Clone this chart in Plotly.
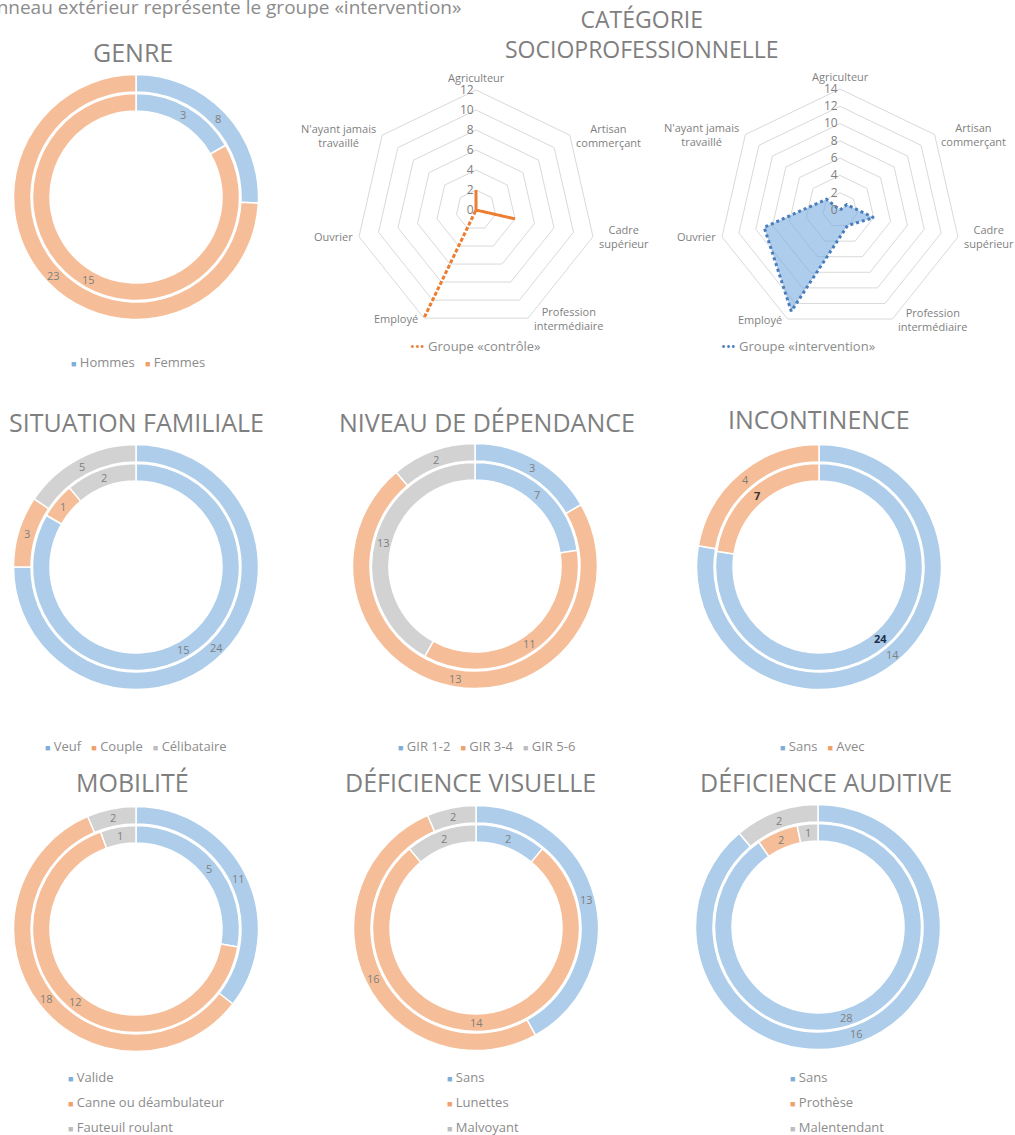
import math

import plotly.graph_objects as go

W, H = 1015, 1135

# --- données (anneau extérieur / anneau intérieur) ---
genre_labels = ["Hommes", "Femmes"]
genre_ext = [8, 23]
genre_int = [3, 15]

famille_labels = ["Veuf", "Couple", "Célibataire"]
famille_ext = [24, 3, 5]
famille_int = [15, 1, 2]

gir_labels = ["GIR 1-2", "GIR 3-4", "GIR 5-6"]
gir_ext = [3, 13, 2]
gir_int = [7, 11, 13]

incont_labels = ["Sans", "Avec"]
incont_ext = [14, 4]
incont_int = [24, 7]

mobilite_labels = ["Valide", "Canne ou déambulateur", "Fauteuil roulant"]
mobilite_ext = [11, 18, 2]
mobilite_int = [5, 12, 1]

visuelle_labels = ["Sans", "Lunettes", "Malvoyant"]
visuelle_ext = [13, 16, 2]
visuelle_int = [2, 14, 2]

auditive_labels = ["Sans", "Prothèse", "Malentendant"]
auditive_ext = [16, 0, 2]
auditive_int = [28, 2, 1]

csp_labels = ["Agriculteur", "Artisan<br>commerçant", "Cadre<br>supérieur",
              "Profession<br>intermédiaire", "Employé", "Ouvrier",
              "N'ayant jamais<br>travaillé"]
csp_controle = [2, 0, 4, 0, 12, 0, 0]
csp_intervention = [0, 1, 4, 2, 13, 9, 2]

FILL = ["#ADCDEA", "#F6BE98", "#D2D2D2"]
LEG = ["#7FAED9", "#F0A06A", "#BDBDBD"]
GRAY = "#7f7f7f"
LGRAY = "#8c8c8c"
FONT = "Open Sans"

R_EXT, HOLE_EXT = 122.5, 105
R_INT, HOLE_INT = 103.5, 86


def px(x):
    return x / W


def py(y):
    return 1 - y / H


def dom(cx, cy, r):
    return dict(x=[px(cx - r), px(cx + r)], y=[py(cy + r), py(cy - r)])


fig = go.Figure()
annotations = []


def note(text, x, y, size, color=LGRAY, xanchor="center", yanchor="middle"):
    annotations.append(dict(text=text, x=px(x), y=py(y), xref="paper", yref="paper",
                            showarrow=False, xanchor=xanchor, yanchor=yanchor,
                            font=dict(size=size, color=color, family=FONT)))


def ring(values, cx, cy, r, hole, colors=None):
    fig.add_trace(go.Pie(
        values=values, textinfo="none",
        sort=False, direction="clockwise", rotation=0,
        hole=hole / r, domain=dom(cx, cy, r),
        marker=dict(colors=FILL[:len(values)], line=dict(color="white", width=1.5)),
        showlegend=False, hoverinfo="skip",
    ))
    # étiquettes au milieu de chaque secteur, comme Excel
    total = sum(values)
    rm = (r + hole) / 2
    acc = 0
    for i, v in enumerate(values):
        if v:
            a = 2 * math.pi * (acc + v / 2) / total
            col = colors[i] if colors else GRAY
            txt = f"<b>{v}</b>" if colors else str(v)
            note(txt, cx + rm * math.sin(a), cy - rm * math.cos(a), 11, col)
        acc += v


def donut(ext, inn, cx, cy, ext_colors=None, int_colors=None):
    ring(ext, cx, cy, R_EXT, HOLE_EXT, ext_colors)
    ring(inn, cx, cy, R_INT, HOLE_INT, int_colors)


def title(text, x, y, size=25):
    note(text, x, y, size, GRAY)


def legend_row(labels, x, y):
    parts = [f'<span style="color:{LEG[i]};font-size:9px">■</span> {lab}'
             for i, lab in enumerate(labels)]
    note("   ".join(parts), x, y, 13)


def legend_col(labels, x, y0, step=25):
    for i, lab in enumerate(labels):
        note(f'<span style="color:{LEG[i]};font-size:9px">■</span> {lab}',
             x, y0 + i * step, 13, xanchor="left")


# --- anneaux ---
donut(genre_ext, genre_int, 136, 197)
donut(famille_ext, famille_int, 136, 567)
donut(gir_ext, gir_int, 475, 566)
donut(incont_ext, incont_int, 819, 567, int_colors=["#1f2d4d", "#333333"])
donut(mobilite_ext, mobilite_int, 136, 929)
donut(visuelle_ext, visuelle_int, 476, 928)
donut(auditive_ext, auditive_int, 818, 927)

# --- radars ---
theta = csp_labels + [csp_labels[0]]
fig.add_trace(go.Scatterpolar(
    r=csp_controle + [csp_controle[0]], theta=theta, mode="lines",
    line=dict(color="#ED7D31", width=3, dash="dot"),
    subplot="polar", showlegend=False, hoverinfo="skip",
))
fig.add_trace(go.Scatterpolar(
    r=csp_intervention + [csp_intervention[0]], theta=theta, mode="lines",
    fill="toself", fillcolor="rgba(120,170,222,0.6)",
    line=dict(color="#4A7EBB", width=3, dash="dot"),
    subplot="polar2", showlegend=False, hoverinfo="skip",
))


def polar_layout(cx, cy, r, rmax):
    return dict(
        domain=dom(cx, cy, r),
        gridshape="linear",
        bgcolor="white",
        angularaxis=dict(rotation=90, direction="clockwise", showgrid=False,
                         showline=True, linecolor="#d9d9d9", linewidth=1, ticks="",
                         showticklabels=False),
        radialaxis=dict(range=[0, rmax], dtick=2, angle=90, tickangle=90,
                        showline=False, gridcolor="#d9d9d9", ticks="",
                        side="counterclockwise",
                        tickfont=dict(size=12, color=GRAY, family=FONT)),
    )


def radar_labels(cx, cy, r):
    # libellés des catégories placés contre les sommets, à la façon d'Excel
    n = len(csp_labels)
    for k, lab in enumerate(csp_labels):
        a = 2 * math.pi * k / n
        vx, vy = cx + r * math.sin(a), cy - r * math.cos(a)
        if k == 0:
            note(lab, vx, vy - 3, 11, GRAY, yanchor="bottom")
        elif math.sin(a) > 0:
            note(lab, vx + 4, vy, 11, GRAY, xanchor="left")
        else:
            note(lab, vx - 4, vy, 11, GRAY, xanchor="right")


radar_labels(476, 210, 120)
radar_labels(840, 210, 121)

# --- titres et légendes ---
title("GENRE", 133, 52)
title("CATÉGORIE<br>SOCIOPROFESSIONNELLE", 642, 34, 23)
title("SITUATION FAMILIALE", 136, 422)
title("NIVEAU DE DÉPENDANCE", 487, 422)
title("INCONTINENCE", 819, 419)
title("MOBILITÉ", 132, 782)
title("DÉFICIENCE VISUELLE", 470, 782)
title("DÉFICIENCE AUDITIVE", 826, 782)

legend_row(genre_labels, 138, 362)
legend_row(famille_labels, 136, 746)
legend_row(gir_labels, 486, 746)
legend_row(incont_labels, 822, 746)
legend_col(mobilite_labels, 66, 1077)
legend_col(visuelle_labels, 445, 1077)
legend_col(auditive_labels, 788, 1077)

note('<span style="color:#ED7D31">•••</span> Groupe «contrôle»', 475, 346, 13)
note('<span style="color:#4A7EBB">•••</span> Groupe «intervention»', 798, 346, 13)
note("L'anneau extérieur représente le groupe «intervention»", 463, 7, 19,
     xanchor="right")

fig.update_layout(
    width=W, height=H,
    margin=dict(l=0, r=0, t=0, b=0),
    paper_bgcolor="white",
    plot_bgcolor="white",
    polar=polar_layout(476, 210, 120, 12),
    polar2=polar_layout(840, 210, 121, 14),
    annotations=annotations,
)

# la figure occupe toute la fenêtre, sans la marge par défaut de la page
fig.write_html("out.html", config={"displayModeBar": False},
               post_script="document.body.style.margin = '0px';")
